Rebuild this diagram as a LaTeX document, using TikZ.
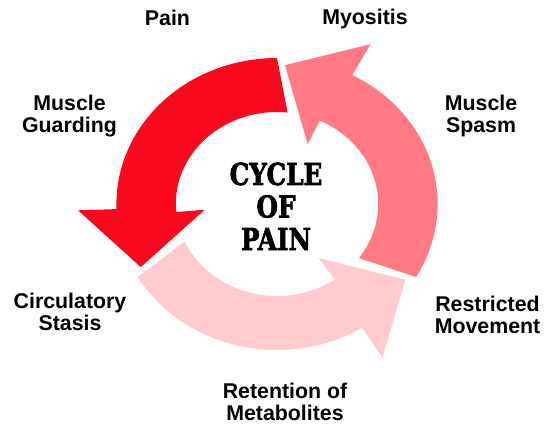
\documentclass[tikz,border=0pt]{standalone}
\usepackage{fontspec}
\usepackage{graphicx}
\setsansfont{Liberation Sans}
\newfontfamily\stencilfont{DejaVu Serif}[BoldFeatures={FakeBold=2.5}]
\definecolor{clrR}{RGB}{250,8,30}
\definecolor{clrM}{RGB}{255,122,133}
\definecolor{clrL}{RGB}{255,203,206}
\newcommand{\cyc}[1]{\scalebox{0.82}[1]{#1}}

\begin{document}
\begin{tikzpicture}[x=0.75pt,y=0.75pt,font=\sffamily\bfseries\fontsize{16}{16.5}\selectfont]
  \useasboundingbox (0,0) rectangle (545,425);

  % three curved arrows (ring squeezed a little in y)
  \begin{scope}[shift={(277,221)},xscale=1.1]
    \foreach \s/\clr in {210/clrL,330/clrM,90/clrR}{
      \fill[\clr] (\s:146) arc[start angle=\s,end angle=\s+92,radius=146]
        -- ({\s+92}:181) -- ({\s+117}:139) -- ({\s+95}:66) -- ({\s+95}:92)
        arc[start angle=\s+95,end angle=\s-6,radius=92] -- cycle;
    }
  \end{scope}

  % centre title (base = last line)
  \node[anchor=base,align=center,font=\stencilfont\bfseries\fontsize{22.6}{24.4}\selectfont]
    (title) at (276,175) {\cyc{CYCLE}\\\cyc{OF}\\\cyc{PAIN}};

  % labels round the ring
  \node[anchor=base] (pain) at (167.5,399) {Pain};
  \node[anchor=base] (myositis) at (365,400) {Myositis};
  \node[anchor=base,align=center] (guarding) at (69.5,292) {Muscle\\Guarding};
  \node[anchor=base,align=center] (spasm) at (481,292) {Muscle\\Spasm};
  \node[anchor=base,align=center] (stasis) at (70,95) {Circulatory\\Stasis};
  \node[anchor=base,align=center] (movement) at (487.5,92) {Restricted\\Movement};
  \node[anchor=base,align=center] (metabolites) at (285,5) {Retention of\\Metabolites};
\end{tikzpicture}
\end{document}
